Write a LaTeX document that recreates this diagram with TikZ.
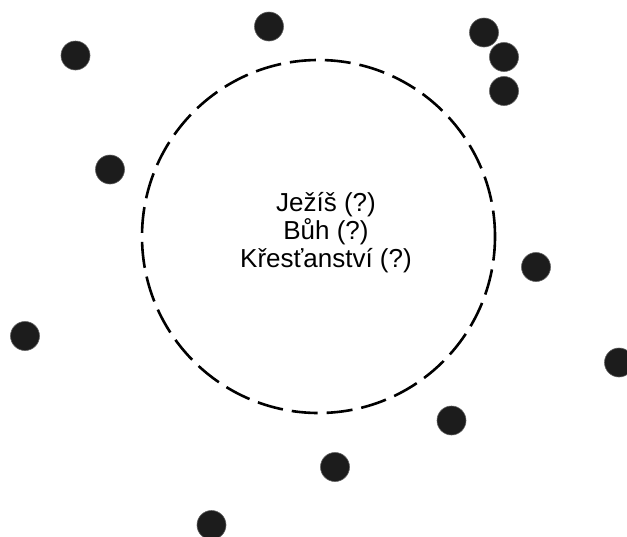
\documentclass[tikz,border=0pt]{standalone}
\usepackage{fontspec}
\setmainfont{Liberation Sans}
\usetikzlibrary{positioning}
\definecolor{dotfill}{HTML}{1C1C1C}

\begin{document}
\begin{tikzpicture}[x=1pt, y=-1pt,
  dot/.style={circle, fill=dotfill, draw=dotfill!70, line width=0.6pt, inner sep=0pt, minimum size=29pt},
  ring/.style={circle, draw=black, line width=2.6pt, dash pattern=on 26pt off 9pt, inner sep=0pt, minimum size=353pt}]
\useasboundingbox (0,0) rectangle (627,536);
\node[ring] (ring) at (318.5,236.5) {};
\node[align=center, font=\fontsize{26}{28}\selectfont] (label) at (326,233) {Ježíš (?)\\Bůh (?)\\Křesťanství (?)};
\node[dot] (a) at (75.5,55.5) {};
\node[dot] (b) at (269,26.5) {};
\node[dot] (c) at (484,32.5) {};
\node[dot] (d) at (504,57) {};
\node[dot] (e) at (504,91) {};
\node[dot] (f) at (110,169.5) {};
\node[dot] (g) at (536,267) {};
\node[dot] (h) at (25,336) {};
\node[dot] (i) at (619,362.5) {};
\node[dot] (j) at (451.5,420.5) {};
\node[dot] (k) at (335,467) {};
\node[dot] (l) at (211.5,525) {};
\end{tikzpicture}
\end{document}
